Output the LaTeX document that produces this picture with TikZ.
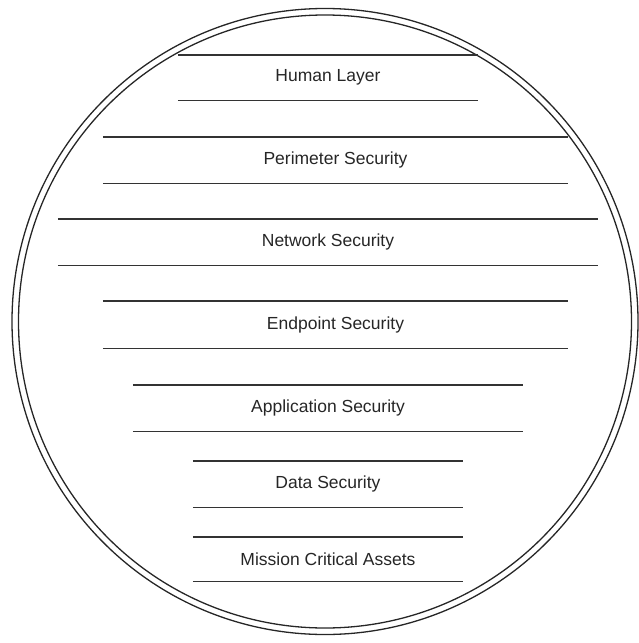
\documentclass[tikz,border=0pt]{standalone}
\usepackage{fontspec}
\setmainfont{Liberation Sans}
\begin{document}
\begin{tikzpicture}[
  x=1pt,y=-1pt,
  layer/.style={inner sep=0pt,minimum height=46pt,text=black!85,font=\fontsize{17.5}{20}\selectfont},
  rule/.style={draw=black!80,line width=1.4pt},
  ring/.style={draw=black!85,line width=1.3pt}
]
\useasboundingbox (0,0) rectangle (638,643);
% --- Rings ---
\node[circle,ring,minimum size=626pt] (outer) at (325,321.5) {};
\node[circle,ring,minimum size=613pt] (inner) at (325,321.5) {};

% --- Layers ---
\node[layer,minimum width=300pt,minimum height=45pt] (HL)  at (328,77.5)  {Human Layer};
\node[layer,minimum width=465pt]                    (PS)  at (335.5,160) {Perimeter Security};
\node[layer,minimum width=540pt]                    (NS)  at (328,242)   {Network Security};
\node[layer,minimum width=465pt,minimum height=47pt] (ES)  at (335.5,324.5) {Endpoint Security};
\node[layer,minimum width=390pt]                    (AS)  at (328,408)   {Application Security};
\node[layer,minimum width=270pt]                    (DS)  at (328,484)   {Data Security};
\node[layer,minimum width=270pt,minimum height=44pt] (MCA) at (328,559)   {Mission Critical Assets};

% --- Rules: top and bottom of each layer ---
\draw[rule] (HL.north west)  -- (HL.north east);
\draw[rule] (HL.south west)  -- (HL.south east);
\draw[rule] (PS.north west)  -- (PS.north east);
\draw[rule] (PS.south west)  -- (PS.south east);
\draw[rule] (NS.north west)  -- (NS.north east);
\draw[rule] (NS.south west)  -- (NS.south east);
\draw[rule] (ES.north west)  -- (ES.north east);
\draw[rule] (ES.south west)  -- (ES.south east);
\draw[rule] (AS.north west)  -- (AS.north east);
\draw[rule] (AS.south west)  -- (AS.south east);
\draw[rule] (DS.north west)  -- (DS.north east);
\draw[rule] (DS.south west)  -- (DS.south east);
\draw[rule] (MCA.north west) -- (MCA.north east);
\draw[rule] (MCA.south west) -- (MCA.south east);

\end{tikzpicture}
\end{document}
